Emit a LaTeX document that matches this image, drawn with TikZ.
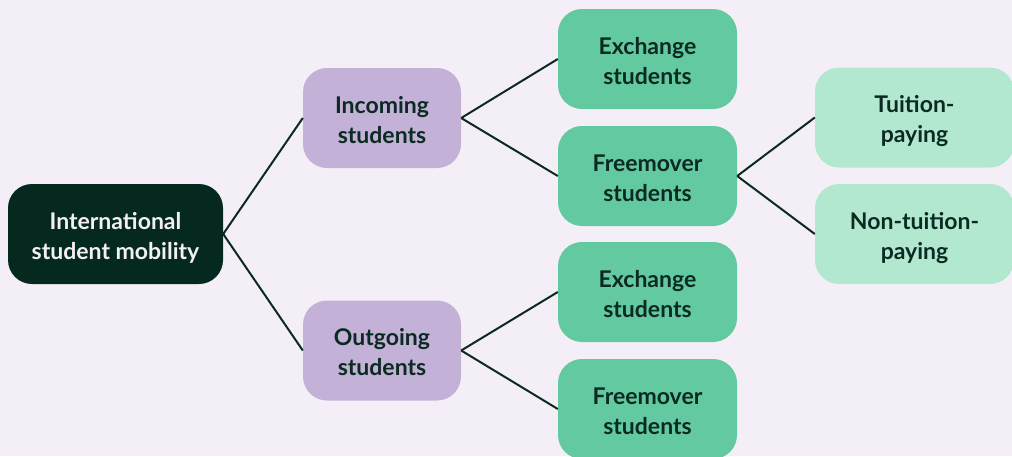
\documentclass[tikz,border=0pt]{standalone}
\usepackage{fontspec}
\setmainfont{Lato}
\definecolor{bg}{HTML}{F4EFF7}
\definecolor{dark}{HTML}{05291F}
\definecolor{ink}{HTML}{0B2A22}
\definecolor{purp}{HTML}{C3B1D8}
\definecolor{grn}{HTML}{62C9A0}
\definecolor{lgrn}{HTML}{B2E8D0}
\begin{document}
\begin{tikzpicture}[x=1pt,y=-1pt,
  box/.style={rounded corners=24pt, align=center, inner sep=0pt, minimum height=100pt,
    text height=50pt, text depth=0pt,
    font=\fontsize{23}{30}\selectfont\bfseries, text=ink},
  rootbox/.style={box, fill=dark, text=bg, minimum width=215pt},
  midbox/.style={box, fill=purp, minimum width=158pt},
  leafbox/.style={box, fill=grn, minimum width=179pt},
  subbox/.style={box, fill=lgrn, minimum width=199pt},
  link/.style={draw=ink, line width=2pt}]
\fill[bg] (0,0) rectangle (1012,456);
\useasboundingbox (0,0) rectangle (1012,456);
\node[rootbox] (root) at (115.5,234) {International\\student mobility};
\node[midbox] (inc) at (382,118) {Incoming\\students};
\node[midbox] (out) at (382,350.5) {Outgoing\\students};
\node[leafbox] (ex1) at (647.5,59) {Exchange\\students};
\node[leafbox] (fm1) at (647.5,176) {Freemover\\students};
\node[leafbox] (ex2) at (647.5,292) {Exchange\\students};
\node[leafbox] (fm2) at (647.5,409) {Freemover\\students};
\node[subbox] (tui) at (914.5,117.5) {Tuition-\\paying};
\node[subbox] (non) at (914.5,234) {Non-tuition-\\paying};
\draw[link] (root.east) -- (inc.west);
\draw[link] (root.east) -- (out.west);
\draw[link] (inc.east) -- (ex1.west);
\draw[link] (inc.east) -- (fm1.west);
\draw[link] (out.east) -- (ex2.west);
\draw[link] (out.east) -- (fm2.west);
\draw[link] (fm1.east) -- (tui.west);
\draw[link] (fm1.east) -- (non.west);
\end{tikzpicture}
\end{document}
